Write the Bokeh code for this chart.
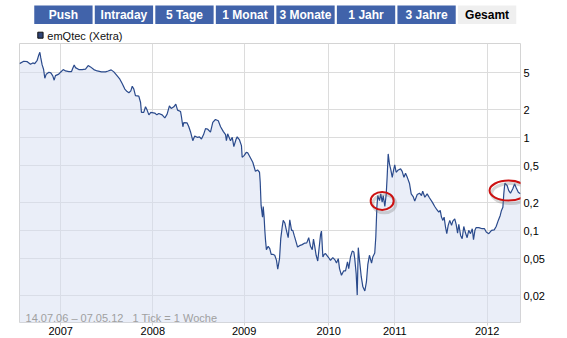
from bokeh.plotting import figure
from bokeh.models import Range1d, FixedTicker, CustomJSTickFormatter, Label
from bokeh.layouts import column
from bokeh.embed import file_html
from bokeh.resources import INLINE
from bokeh.core.properties import value

# ---------------- data ----------------
tab_labels = ["Push", "Intraday", "5 Tage", "1 Monat", "3 Monate", "1 Jahr", "3 Jahre", "Gesamt"]
active_tab = "Gesamt"
series_name = "emQtec (Xetra)"
period_text = "14.07.06 \u2013 07.05.12\u00a0\u00a0\u00a01 Tick = 1 Woche"

# x axis: one tick = one week (index of trading week)
year_ticks = [23.3, 75.3, 126.9, 174.7, 212.0, 264.2]
year_labels = ["2007", "2008", "2009", "2010", "2011", "2012"]
price_ticks = [0.02, 0.05, 0.1, 0.2, 0.5, 1, 2, 5]

weeks = [
    0.0, 2.4, 4.4, 6.2, 7.5, 8.6, 10.0, 10.9, 11.5, 12.0,
    12.8, 13.6, 14.3, 15.1, 16.6, 17.7, 18.8, 19.6, 20.3, 22.2,
    23.2, 24.7, 26.0, 27.9, 29.4, 30.1, 30.9, 31.6, 33.5, 35.4,
    37.3, 38.8, 40.1, 42.0, 43.9, 46.3, 48.6, 50.1, 51.8, 53.3,
    55.2, 56.7, 58.0, 59.5,
    60.8, 61.8, 62.9, 63.7, 64.6, 65.5, 67.4, 68.4, 68.9, 70.2,
    71.2, 72.1, 73.1, 74.2, 76.4, 77.6, 78.7, 80.6, 82.1, 83.4,
    84.7, 85.7, 87.2, 88.3, 89.3, 91.0, 91.5, 92.3, 92.8, 94.7,
    95.6, 96.6, 97.9, 99.0, 100.4, 101.7, 102.8, 104.0, 105.1, 106.2,
    107.9, 109.2, 110.7, 112.3, 113.6, 115.1, 116.4,
    116.9, 117.6, 119.2, 120.2, 121.1, 122.4, 123.0, 124.3, 125.4, 125.8,
    127.0, 128.1, 129.0, 130.3, 131.8, 133.3, 134.5, 135.6, 136.0, 136.5,
    137.3, 137.7, 138.2, 138.6, 139.0, 139.5, 140.5, 141.4, 142.2, 143.1,
    144.2, 145.2, 145.9, 146.9, 147.6, 148.4, 149.0, 149.9, 150.8, 151.8,
    152.7, 153.7, 154.4, 155.2, 156.3, 157.1, 158.2, 159.7, 161.2, 162.3,
    163.4, 164.4, 165.4, 166.1, 166.8, 167.6, 168.5, 169.1, 170.1, 170.6,
    171.4, 172.2, 172.9,
    174.4, 175.7, 177.0, 178.1, 179.1, 180.1, 180.8, 181.9, 183.1, 184.2,
    185.3, 186.0, 187.0, 188.0, 188.9, 189.4, 190.2, 190.8, 191.4, 192.1,
    193.1, 194.0, 195.1, 196.0, 196.8, 197.7, 198.9, 199.6, 200.7, 201.3,
    201.9, 202.4, 203.4, 204.1, 204.9, 205.5, 206.4, 207.2, 207.7, 208.3,
    209.0, 209.8, 210.6, 211.3, 212.0, 212.8, 214.0, 215.3, 216.2, 217.2,
    218.1, 219.2, 220.3, 221.3, 222.4, 223.3, 224.7, 226.0, 227.1, 227.8,
    229.0,
    230.3, 231.6, 233.2, 234.6, 235.8, 236.9, 237.7, 238.4, 239.2, 239.9,
    240.7, 241.4, 242.2, 243.1, 244.1, 244.8, 245.9, 246.7, 247.5, 248.2,
    249.2, 250.1, 251.0, 252.0, 252.9, 253.8, 254.8, 255.8, 256.5, 257.3,
    258.0, 259.5, 261.4, 262.7, 263.7, 265.1, 266.7, 268.2, 269.3, 270.5,
    271.6, 272.3, 273.1, 273.6, 274.2, 275.5, 276.4, 277.4, 278.7, 279.7,
    280.6, 281.8, 283.0,
]

prices = [
    6.26, 6.64, 6.57, 6.17, 6.37, 6.26, 6.80, 7.76, 8.29, 7.26,
    6.06, 5.45, 4.36, 4.82, 5.06, 4.97, 4.62, 4.15, 4.65, 4.82,
    5.06, 5.40, 5.22, 5.14, 5.14, 5.59, 6.06, 5.67, 5.40, 5.40,
    5.45, 5.96, 5.77, 5.40, 5.22, 5.10, 5.10, 5.22, 5.36, 5.10,
    4.62, 4.26, 3.82, 3.33,
    3.13, 3.04, 3.19, 3.58, 3.33, 2.84, 2.80, 2.39, 1.87, 1.87,
    2.15, 1.98, 1.76, 1.87, 1.84, 1.76, 1.82, 1.76, 1.63, 1.79,
    2.20, 2.06, 2.15, 2.30, 1.98, 1.91, 1.68, 1.31, 1.45, 1.44,
    1.32, 1.16, 0.929, 1.04, 1.01, 1.02, 0.968, 1.08, 1.25, 1.24,
    1.15, 1.46, 1.57, 1.52, 1.31, 1.17, 1.08,
    0.929, 1.10, 0.929, 1.01, 0.801, 0.968, 1.02, 0.945, 0.821, 0.615,
    0.646, 0.696, 0.686, 0.615, 0.544, 0.435, 0.450, 0.425, 0.332, 0.187,
    0.140, 0.182, 0.140, 0.101, 0.0787, 0.0626, 0.0679, 0.0641, 0.0557, 0.0557,
    0.0544, 0.0480, 0.0385, 0.0501, 0.0821, 0.109, 0.129, 0.121, 0.101, 0.0841,
    0.131, 0.101, 0.101, 0.0890, 0.0755, 0.0667, 0.0690, 0.0708, 0.0736, 0.0740,
    0.0841, 0.0679, 0.0626, 0.0813, 0.0679, 0.0544, 0.0472, 0.0604, 0.0913, 0.0990,
    0.0521, 0.0557, 0.0567,
    0.0521, 0.0480, 0.0514, 0.0489, 0.0449, 0.0501, 0.0391, 0.0332, 0.0369, 0.0369,
    0.0461, 0.0391, 0.0521, 0.0604, 0.0590, 0.0501, 0.0346, 0.0203, 0.0657, 0.0480,
    0.0318, 0.0249, 0.0225, 0.0281, 0.0435, 0.0544, 0.0449, 0.0521, 0.0575, 0.0854,
    0.179, 0.239, 0.211, 0.249, 0.203, 0.239, 0.182, 0.249, 0.375, 0.669,
    0.523, 0.450, 0.375, 0.443, 0.510, 0.425, 0.450, 0.462, 0.435, 0.375,
    0.414, 0.370, 0.324, 0.249, 0.233, 0.208, 0.245, 0.253, 0.239, 0.266,
    0.229,
    0.249, 0.226, 0.203, 0.182, 0.168, 0.158, 0.165, 0.140, 0.129, 0.140,
    0.109, 0.0929, 0.114, 0.129, 0.114, 0.127, 0.134, 0.117, 0.0943, 0.117,
    0.0890, 0.0821, 0.111, 0.0943, 0.0841, 0.101, 0.0929, 0.105, 0.0801, 0.101,
    0.108, 0.108, 0.105, 0.105, 0.0966, 0.0929, 0.101, 0.102, 0.111, 0.129,
    0.146, 0.165, 0.179, 0.249, 0.324, 0.306, 0.270, 0.253, 0.282, 0.319,
    0.289, 0.259, 0.249,
]

# highlighted spots (red ellipses)
highlight_weeks = [204.9, 276.3]
highlight_prices = [0.209, 0.270]

assert len(weeks) == len(prices)

# ---------------- style ----------------
W = 567
HEADER_H = 43
MAIN_H = 338 - HEADER_H
FONT = "Liberation Sans"
TAB_BLUE = "#4163aa"
TAB_ACTIVE = "#efefef"
LINE_BLUE = "#2a4a8c"
GRID = "#dcdcdc"

# ---------------- header (tabs + legend) ----------------
hdr = figure(width=W, height=HEADER_H, x_range=Range1d(0, W), y_range=Range1d(HEADER_H, 0),
             output_backend="svg", toolbar_location=None, x_axis_type=None, y_axis_type=None,
             min_border=0, outline_line_color=None)

TAB_X0, TAB_PITCH, TAB_W = 16.7, 68.5, 66.0
lefts = [TAB_X0 + i * TAB_PITCH for i in range(len(tab_labels))]
rights = [l + TAB_W for l in lefts]
centers = [l + TAB_W / 2 for l in lefts]
fills = [TAB_ACTIVE if t == active_tab else TAB_BLUE for t in tab_labels]
tcolors = ["#000000" if t == active_tab else "#ffffff" for t in tab_labels]

hdr.quad(left=lefts, right=rights, top=5.0, bottom=23.5, fill_color=fills, line_color=None)
hdr.text(x=centers, y=[14.5] * len(tab_labels), text=tab_labels, text_align="center",
         text_baseline="middle", text_font=value(FONT), text_font_style="bold",
         text_font_size="12px", text_color=tcolors)

hdr.quad(left=[20.7], right=[26.7], top=[31.7], bottom=[37.7], fill_color="#2f4477", line_color="#111111")
hdr.text(x=[31.5], y=[35], text=[series_name], text_align="left", text_baseline="middle",
         text_font=value(FONT), text_font_size="11px", text_color="#111111")

# ---------------- main chart ----------------
p = figure(width=W, height=MAIN_H, x_range=Range1d(0, 283.05), y_range=Range1d(0.0103, 10.3),
           y_axis_type="log", y_axis_location="right", output_backend="svg", toolbar_location=None,
           min_border_left=19, min_border_right=47, min_border_top=0, min_border_bottom=16,
           outline_line_color="#d4d4d4", background_fill_color="#ffffff", border_fill_color="#ffffff")

p.xgrid.grid_line_color = GRID
p.ygrid.grid_line_color = GRID

p.xaxis.ticker = FixedTicker(ticks=year_ticks, minor_ticks=[])
p.xaxis.formatter = CustomJSTickFormatter(
    args=dict(yt=year_ticks, yl=year_labels),
    code="const i = yt.indexOf(tick); return i >= 0 ? yl[i] : '';")
p.xaxis.axis_line_color = None
p.xaxis.major_tick_line_color = "#d4d4d4"
p.xaxis.major_tick_out = 3
p.xaxis.major_tick_in = 0
p.xaxis.minor_tick_line_color = None
p.xaxis.major_label_standoff = 1
p.xaxis.major_label_text_font = FONT
p.xaxis.major_label_text_font_size = "11px"
p.xaxis.major_label_text_color = "#000000"

p.yaxis.ticker = FixedTicker(ticks=price_ticks, minor_ticks=[])
p.yaxis.formatter = CustomJSTickFormatter(code="return String(tick).replace('.', ',');")
p.yaxis.axis_line_color = None
p.yaxis.major_tick_line_color = None
p.yaxis.major_tick_out = 0
p.yaxis.major_tick_in = 0
p.yaxis.minor_tick_line_color = None
p.yaxis.major_label_standoff = 3
p.yaxis.major_label_text_font = FONT
p.yaxis.major_label_text_font_size = "11px"
p.yaxis.major_label_text_color = "#000000"

p.varea(x=weeks, y1=0.001, y2=prices, fill_color="#d5ddf1", fill_alpha=0.5)
p.line(x=weeks, y=prices, line_color=LINE_BLUE, line_width=1.2)

# ellipse shadows and red ellipses
shadow_x = [w + 1.2 for w in highlight_weeks]
shadow_y = [v * 0.93 for v in highlight_prices]
p.ellipse(x=shadow_x, y=shadow_y, width=[23, 38], height=[18, 20],
          width_units="screen", height_units="screen",
          fill_color=None, line_color="#777777", line_alpha=0.3, line_width=3)
p.ellipse(x=highlight_weeks, y=highlight_prices, width=[23, 38], height=[18, 20],
          width_units="screen", height_units="screen",
          fill_color=None, line_color="#cc1111", line_width=2)

p.add_layout(Label(x=3.4, y=0.0114, text=period_text, text_font=FONT, text_font_size="11px",
                   text_color="#a0a0a0", text_baseline="alphabetic"))

layout = column(hdr, p)
open("out.html", "w").write(file_html(layout, INLINE))
